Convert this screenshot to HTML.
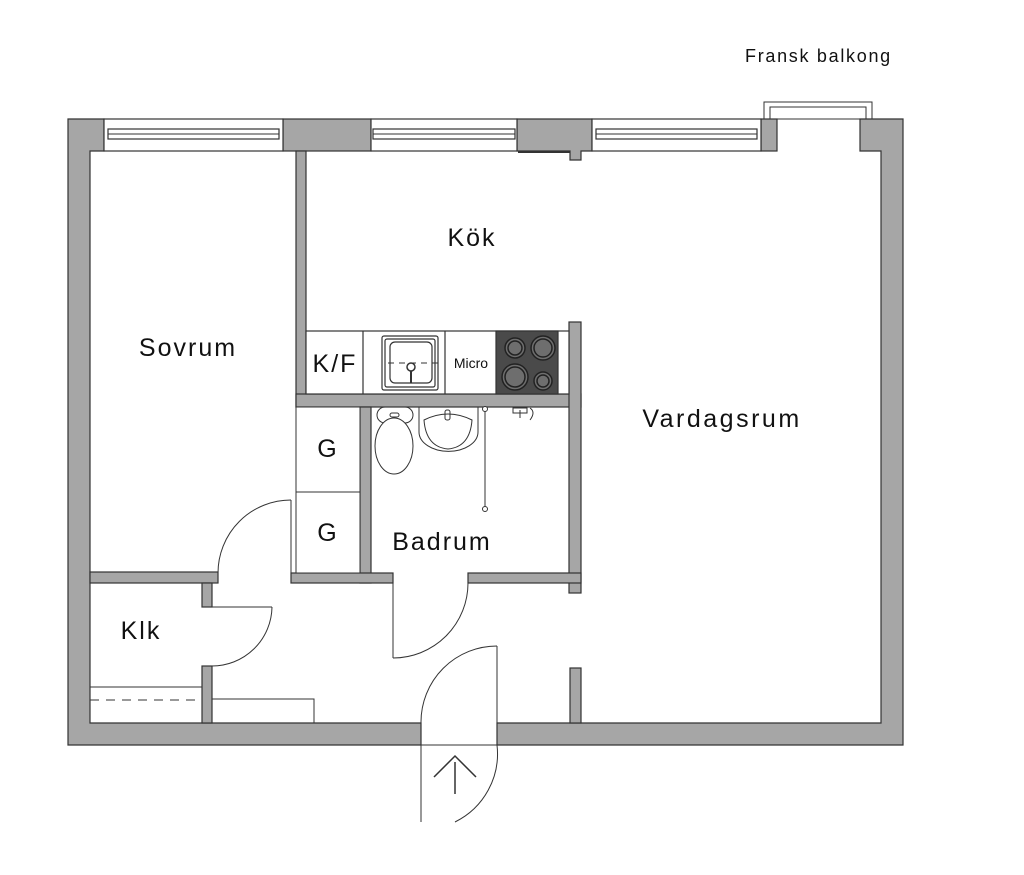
<!DOCTYPE html>
<html><head><meta charset="utf-8"><style>
html,body{margin:0;padding:0;background:#fff;}
svg{display:block;}
text{font-family:"Liberation Sans",sans-serif;fill:#111;}
.l{letter-spacing:2px;}
</style></head><body>
<svg width="1024" height="875" viewBox="0 0 1024 875" xmlns="http://www.w3.org/2000/svg">
<g fill="#a6a6a6" stroke="#333" stroke-width="1.2">
<path d="M68,119 H104 V151 H90 V723 H421 V745 H68 Z"/>
<path d="M497,723 H881 V151 H860 V119 H903 V745 H497 Z"/>
<rect x="283" y="119" width="88" height="32"/>
<path d="M517,119 H592 V151 H581 V160 H570 V151 H517 Z"/>
<rect x="761" y="119" width="16" height="32"/>
<rect x="296" y="151" width="10" height="256"/>
<rect x="296" y="394" width="285" height="13"/>
<rect x="569" y="322" width="12" height="271"/>
<rect x="360" y="407" width="11" height="176"/>
<rect x="291" y="573" width="102" height="10"/>
<rect x="468" y="573" width="113" height="10"/>
<rect x="90" y="572" width="128" height="11"/>
<rect x="202" y="583" width="10" height="24"/>
<rect x="202" y="666" width="10" height="57"/>
<rect x="570" y="668" width="11" height="55"/>
</g>
<g fill="#fff" stroke="#333" stroke-width="1.2">
<rect x="104" y="119" width="179" height="32"/>
<rect x="371" y="119" width="146" height="32"/>
<rect x="592" y="119" width="169" height="32"/>
<rect x="108" y="129" width="171" height="10"/>
<rect x="373" y="129" width="142" height="10"/>
<rect x="596" y="129" width="161" height="10"/>
</g>
<g stroke="#333" stroke-width="1" fill="none">
<line x1="108" y1="134" x2="279" y2="134"/>
<line x1="373" y1="134" x2="515" y2="134"/>
<line x1="596" y1="134" x2="757" y2="134"/>
<path d="M764,119 V102 H872 V119"/>
<path d="M770,119 V107 H866 V119"/>
<line x1="777" y1="119" x2="860" y2="119"/>
<line x1="518" y1="152" x2="570" y2="152" stroke-width="2"/>
</g>
<g stroke="#333" stroke-width="1.2" fill="#fff">
<rect x="306" y="331" width="263" height="63"/>
<line x1="363" y1="331" x2="363" y2="394"/>
<line x1="445" y1="331" x2="445" y2="394"/>
<rect x="496" y="331" width="62" height="63" fill="#4a4a4a"/>
<rect x="382" y="336" width="56" height="54" rx="2"/>
<rect x="385" y="339" width="50" height="48" rx="2"/>
<rect x="390" y="342" width="42" height="41" rx="5"/>
</g>
<g stroke="#222" stroke-width="1.5" fill="#6e6e6e">
<circle cx="515" cy="348" r="10"/><circle cx="515" cy="348" r="7"/>
<circle cx="543" cy="348" r="12"/><circle cx="543" cy="348" r="9"/>
<circle cx="515" cy="377" r="13"/><circle cx="515" cy="377" r="10"/>
<circle cx="543" cy="381" r="9"/><circle cx="543" cy="381" r="6"/>
</g>
<g stroke="#333" stroke-width="1" fill="none">
<line x1="388" y1="363" x2="442" y2="363" stroke-dasharray="6,5"/>
<circle cx="411" cy="367" r="4" fill="#fff" stroke-width="1.5"/>
<line x1="411" y1="371" x2="411" y2="383" stroke-width="2"/>
<rect x="296" y="407" width="64" height="85" fill="#fff"/>
<rect x="296" y="492" width="64" height="81" fill="#fff"/>
<rect x="377" y="407" width="36" height="16" rx="8"/>
<ellipse cx="394" cy="446" rx="19" ry="28" fill="#fff"/>
<rect x="390" y="413" width="9" height="4" rx="2"/>
<path d="M419,407 V432 A29,19 0 0 0 478,432 V407"/>
<path d="M424,420 Q448,408 472,420 Q470,447 448,449 Q426,447 424,420 Z"/>
<rect x="445" y="410" width="5" height="10" rx="2"/>
<line x1="485" y1="408" x2="485" y2="509"/>
<circle cx="485" cy="409" r="2.5" fill="#fff"/>
<circle cx="485" cy="509" r="2.5" fill="#fff"/>
<path d="M513,408 h14 v5 h-14 z M520,410 v8 M530,408 q6,4 0,12" />
<line x1="291" y1="500" x2="291" y2="573"/>
<path d="M291,500 A73,73 0 0 0 218,573"/>
<line x1="212" y1="607" x2="272" y2="607"/>
<path d="M272,607 A60,60 0 0 1 212,666"/>
<line x1="393" y1="583" x2="393" y2="658"/>
<path d="M393,658 A75,75 0 0 0 468,583"/>
<rect x="212" y="699" width="102" height="24"/>
<line x1="90" y1="687" x2="202" y2="687"/>
<line x1="90" y1="700" x2="202" y2="700" stroke-dasharray="9,7"/>
<line x1="497" y1="646" x2="497" y2="745"/>
<path d="M497,646 A76,76 0 0 0 421,722"/>
<line x1="421" y1="722" x2="421" y2="822"/>
<line x1="421" y1="745" x2="497" y2="745"/>
<path d="M497,745 A76,76 0 0 1 455,822"/>
<line x1="455" y1="762" x2="455" y2="794" stroke-width="1.5"/>
<path d="M434,777 L455,756 L476,777" stroke-width="1.5"/>
</g>
<text x="745" y="62" font-size="18" style="letter-spacing:1.7px">Fransk balkong</text>
<text x="472" y="246" font-size="25" text-anchor="middle" class="l">Kök</text>
<text x="188" y="356" font-size="25" text-anchor="middle" class="l">Sovrum</text>
<text x="722" y="427" font-size="25" text-anchor="middle" style="letter-spacing:2.5px">Vardagsrum</text>
<text x="141" y="639" font-size="25" text-anchor="middle" class="l">Klk</text>
<text x="442" y="550" font-size="25" text-anchor="middle" class="l">Badrum</text>
<text x="327" y="457" font-size="25" text-anchor="middle">G</text>
<text x="327" y="541" font-size="25" text-anchor="middle">G</text>
<text x="335" y="372" font-size="25" text-anchor="middle" class="l">K/F</text>
<text x="471" y="368" font-size="14" text-anchor="middle">Micro</text>
</svg>
</body></html>
